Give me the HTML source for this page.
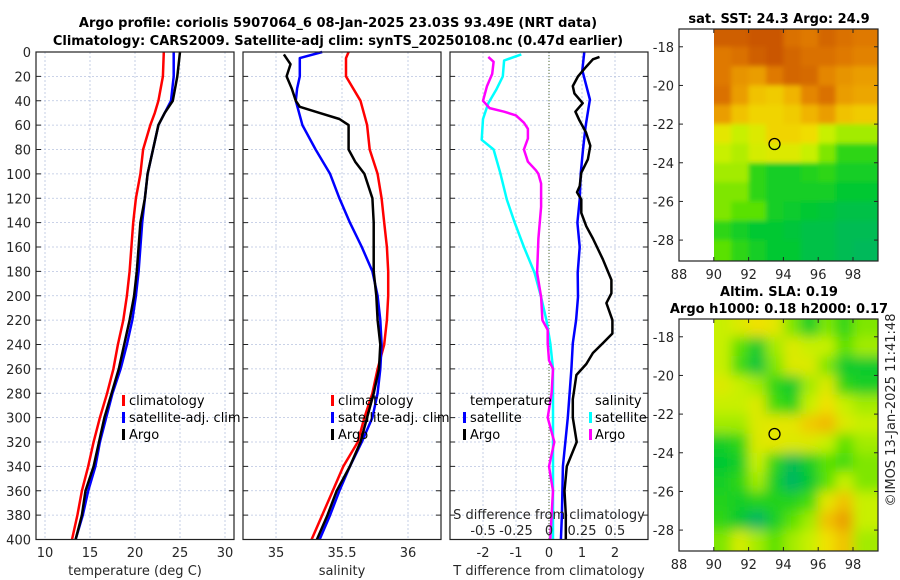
<!DOCTYPE html>
<html><head><meta charset="utf-8">
<style>
html,body{margin:0;padding:0;background:#fff;}
svg{display:block;font-family:"DejaVu Sans","Liberation Sans",sans-serif;}
.tk{font-size:13px;fill:#262626;}
.ti{font-size:13px;font-weight:bold;fill:#000;}
.lg{font-size:13px;fill:#000;}
</style></head>
<body>
<svg id="fig" width="900" height="580" viewBox="0 0 900 580" xmlns="http://www.w3.org/2000/svg">
<defs>
<filter id="blur1" x="0" y="0" width="1" height="1"><feGaussianBlur stdDeviation="2.5" edgeMode="duplicate"/></filter>
<filter id="blur2" x="0" y="0" width="1" height="1"><feGaussianBlur stdDeviation="6" edgeMode="duplicate"/></filter>
<clipPath id="cp1"><rect x="714" y="29" width="164" height="232"/></clipPath>
<clipPath id="cp2"><rect x="714" y="319" width="164" height="232"/></clipPath>
</defs>
<text class="ti" x="338" y="27" text-anchor="middle">Argo profile: coriolis 5907064_6 08-Jan-2025 23.03S 93.49E (NRT data)</text>
<text class="ti" x="338" y="45" text-anchor="middle">Climatology: CARS2009. Satellite-adj clim: synTS_20250108.nc (0.47d earlier)</text>
<g id="plots"></g>
</svg>
<script>
// ---------- data ----------
const depthTicks = [0,20,40,60,80,100,120,140,160,180,200,220,240,260,280,300,320,340,360,380,400];
const tempTicks = [10,15,20,25,30];
const salTicks = [35,35.5,36];
const salTickLabels = ["35","35.5","36"];
const tdTicks = [-2,-1,0,1,2];
const sdTicks = [-0.5,-0.25,0,0.25,0.5];
const sdTickLabels = ["-0.5","-0.25","0","0.25","0.5"];

const tDepth = [0,20,40,50,60,80,100,120,140,160,180,200,220,240,260,280,300,320,340,360,380,400];
const tArgo = [25.0,24.7,24.2,23.3,22.6,22.0,21.4,21.1,20.6,20.4,20.2,19.9,19.4,18.8,18.2,17.4,16.6,16.0,15.4,14.5,14.1,13.4];
const tSat  = [24.3,24.3,24.0,23.3,22.6,22.0,21.4,21.1,20.8,20.6,20.4,20.1,19.7,19.1,18.4,17.5,16.8,16.1,15.6,14.8,14.2,13.4];
const tClim = [23.2,23.1,22.6,22.2,21.7,20.9,20.6,20.1,19.8,19.6,19.4,19.1,18.7,18.1,17.6,16.9,16.1,15.4,14.8,14.1,13.6,13.0];

const sClimDepth = [0,5,20,40,60,80,100,120,140,160,180,200,220,240,260,280,300,320,340,360,380,400];
const sClim = [35.55,35.53,35.53,35.64,35.69,35.71,35.77,35.80,35.82,35.84,35.85,35.85,35.84,35.82,35.77,35.73,35.67,35.62,35.51,35.43,35.35,35.27];
const sArgoDepth = [2,10,20,30,40,45,50,55,60,70,80,90,100,120,140,160,180,200,220,240,260,280,300,320,340,360,380,400];
const sArgo = [35.06,35.11,35.08,35.12,35.15,35.18,35.33,35.48,35.55,35.55,35.55,35.60,35.67,35.73,35.74,35.74,35.74,35.76,35.77,35.79,35.78,35.74,35.69,35.64,35.56,35.46,35.39,35.31];
const sSatDepth = [0,5,20,30,40,60,80,100,120,140,160,180,200,220,240,260,280,300,320,340,360,380,400];
const sSat = [35.35,35.18,35.18,35.16,35.15,35.20,35.30,35.41,35.48,35.56,35.65,35.73,35.77,35.79,35.80,35.79,35.77,35.73,35.65,35.56,35.48,35.41,35.33];

const dTSatDepth = [0,15,39,61,80,100,121,140,160,181,201,220,239,260,300,340,380,400];
const dTSat = [1.07,1.01,1.24,1.11,1.03,0.96,0.93,0.86,0.93,0.87,0.88,0.82,0.72,0.68,0.57,0.42,0.39,0.36];
const dTArgoDepth = [4,6,12,20,28,34,42,49,56,66,77,88,99,110,115,121,132,143,153,170,187,198,206,220,231,239,247,256,265,285,300,320,340,360,380,400];
const dTArgo = [1.53,1.33,1.13,0.88,0.72,0.77,1.02,0.80,0.92,1.12,1.25,1.18,0.98,0.93,0.85,0.98,0.98,1.13,1.33,1.63,1.89,1.89,1.74,1.92,1.92,1.63,1.33,1.13,0.83,0.72,0.72,0.84,0.54,0.47,0.51,0.51];
const dSSatDepth = [2,7,20,31,42,55,72,80,99,121,140,160,181,201,220,239,260,300,350,400];
const dSSat = [-0.21,-0.34,-0.35,-0.40,-0.46,-0.50,-0.51,-0.42,-0.37,-0.32,-0.26,-0.19,-0.11,-0.06,-0.02,0.01,0.03,0.03,0.03,0.03];
const dSArgoDepth = [4,8,18,28,40,46,49,52,58,63,71,80,90,97,100,108,127,153,181,201,220,228,239,253,260,280,300,320,340,360,380,400];
const dSArgo = [-0.46,-0.42,-0.43,-0.47,-0.50,-0.45,-0.34,-0.25,-0.19,-0.16,-0.16,-0.19,-0.16,-0.10,-0.08,-0.06,-0.06,-0.08,-0.09,-0.06,-0.05,-0.01,-0.01,0.00,0.03,0.02,-0.01,0.04,0.00,0.03,0.02,0.01];

const sstGrid = [
[0.95,0.95,0.97,0.97,0.90,0.88,0.93,0.90,0.88],
[0.88,0.90,0.95,0.97,0.93,0.90,0.90,0.88,0.86],
[0.88,0.82,0.80,0.88,0.93,0.92,0.85,0.82,0.80],
[0.90,0.80,0.72,0.70,0.75,0.85,0.90,0.80,0.78],
[0.80,0.72,0.68,0.68,0.70,0.75,0.80,0.72,0.70],
[0.62,0.55,0.60,0.68,0.68,0.66,0.55,0.50,0.50],
[0.55,0.52,0.58,0.60,0.60,0.55,0.45,0.30,0.30],
[0.50,0.50,0.30,0.25,0.25,0.28,0.30,0.25,0.25],
[0.45,0.45,0.30,0.25,0.25,0.25,0.25,0.20,0.20],
[0.45,0.40,0.40,0.25,0.22,0.20,0.18,0.15,0.15],
[0.30,0.25,0.20,0.20,0.18,0.15,0.15,0.12,0.12],
[0.40,0.30,0.25,0.20,0.20,0.15,0.15,0.12,0.10]];
const slaGrid = [
[0.55,0.60,0.65,0.62,0.45,0.25,0.45,0.30,0.45],
[0.55,0.40,0.22,0.50,0.60,0.55,0.55,0.40,0.50],
[0.55,0.35,0.18,0.45,0.60,0.60,0.45,0.22,0.22],
[0.60,0.55,0.50,0.30,0.22,0.50,0.60,0.30,0.25],
[0.55,0.55,0.60,0.35,0.28,0.55,0.65,0.55,0.50],
[0.50,0.50,0.60,0.62,0.62,0.70,0.74,0.60,0.55],
[0.25,0.30,0.60,0.62,0.60,0.60,0.55,0.40,0.50],
[0.20,0.25,0.55,0.30,0.12,0.25,0.40,0.35,0.45],
[0.25,0.30,0.50,0.25,0.08,0.20,0.40,0.55,0.45],
[0.28,0.25,0.28,0.28,0.28,0.35,0.62,0.72,0.55],
[0.30,0.20,0.08,0.25,0.40,0.50,0.72,0.80,0.55],
[0.45,0.58,0.50,0.40,0.50,0.55,0.65,0.72,0.50]];
const mapLonTicks = [88,90,92,94,96,98];
const mapLatTicks = [-18,-20,-22,-24,-26,-28];
const argoLon = 93.49, argoLat = -23.03;

// ---------- helpers ----------
const NS = "http://www.w3.org/2000/svg";
const root = document.getElementById('plots');
function mk(tag, attrs, parent){
  const e = document.createElementNS(NS, tag);
  for (const k in attrs) e.setAttribute(k, attrs[k]);
  (parent||root).appendChild(e);
  return e;
}
const Y0 = 52, Y1 = 539.5;
const yD = d => Y0 + (Y1 - Y0) * d / 400;

function panel(name, x0, x1, xmin, xmax){
  const g = mk('g', {});
  
  
  return {g, x0, x1, sx: v => x0 + (x1 - x0) * (v - xmin) / (xmax - xmin)};
}
function frame(p, xt, xtl, yLabels){
  depthTicks.forEach(d => {
    const y = yD(d);
    const gl = mk('line', {x1:p.x0, x2:p.x1, y1:y, y2:y, stroke:'#b8c4e0', 'stroke-width':0.8, 'stroke-dasharray':'2,2'}, p.g);
    
    
    mk('line', {x1:p.x0, x2:p.x0+5, y1:y, y2:y, stroke:'#222', 'stroke-width':1}, p.g);
    mk('line', {x1:p.x1-5, x2:p.x1, y1:y, y2:y, stroke:'#222', 'stroke-width':1}, p.g);
    if (yLabels){
      const t = mk('text', {class:'tk', x:p.x0-5, y:y+5, 'text-anchor':'end'}, p.g);
      t.textContent = d;
      
      
    }
  });
  xt.forEach((v,i) => {
    const x = p.sx(v);
    const gl = mk('line', {x1:x, x2:x, y1:Y0, y2:Y1, stroke:'#b8c4e0', 'stroke-width':0.8, 'stroke-dasharray':'2,2'}, p.g);
    
    
    const t = mk('text', {class:'tk', x:x, y:557, 'text-anchor':'middle'}, p.g);
    t.textContent = xtl ? xtl[i] : v;
    
    
  });
}
function border(p){
  const r = mk('rect', {x:p.x0, y:Y0, width:p.x1-p.x0, height:Y1-Y0, fill:'none', stroke:'#222', 'stroke-width':1.2}, p.g);
  
  
}
function line(p, depths, vals, color, name, sx){
  const f = sx || p.sx;
  const pts = vals.map((v,i) => f(v).toFixed(1) + ',' + yD(depths[i]).toFixed(1)).join(' ');
  const pl = mk('polyline', {points:pts, fill:'none', stroke:color, 'stroke-width':2.5, 'stroke-linejoin':'round'}, p.g);
  
  
}
function text(parent, x, y, s, cls, name, anchor){
  const t = mk('text', {class:cls, x:x, y:y, 'text-anchor':anchor||'start'}, parent);
  t.textContent = s;
  
  
  return t;
}
function legendBar(parent, x, y, color){
  const r = mk('rect', {x:x, y:y-10, width:3, height:11, fill:color}, parent);
  
  
}

// ---------- panel 1: temperature ----------
const p1 = panel('temperature-panel', 36, 234, 9, 31);
frame(p1, tempTicks, null, true);
line(p1, tDepth, tClim, '#ff0000', 'temperature-climatology-line');
line(p1, tDepth, tSat, '#0000ff', 'temperature-satellite-line');
line(p1, tDepth, tArgo, '#000000', 'temperature-argo-line');
border(p1);
text(p1.g, 135, 575, 'temperature (deg C)', 'tk', 'x-axis-title', 'middle');
[['climatology','#ff0000',405],['satellite-adj. clim','#0000ff',422],['Argo','#000',439]].forEach(([s,c,y]) => {
  legendBar(p1.g, 122, y, c); text(p1.g, 129, y, s, 'lg', 'legend-entry');
});

// ---------- panel 2: salinity ----------
const p2 = panel('salinity-panel', 243, 441, 34.75, 36.25);
frame(p2, salTicks, salTickLabels, false);
line(p2, sClimDepth, sClim, '#ff0000', 'salinity-climatology-line');
line(p2, sSatDepth, sSat, '#0000ff', 'salinity-satellite-line');
line(p2, sArgoDepth, sArgo, '#000000', 'salinity-argo-line');
border(p2);
text(p2.g, 342, 575, 'salinity', 'tk', 'x-axis-title', 'middle');
[['climatology','#ff0000',405],['satellite-adj. clim','#0000ff',422],['Argo','#000',439]].forEach(([s,c,y]) => {
  legendBar(p2.g, 331, y, c); text(p2.g, 338, y, s, 'lg', 'legend-entry');
});

// ---------- panel 3: differences ----------
const p3 = panel('difference-panel', 450, 648, -3.0, 3.0);
const sxS = v => p3.sx(v * 4);
frame(p3, tdTicks, null, false);
const zl = mk('line', {x1:p3.sx(0), x2:p3.sx(0), y1:Y0, y2:Y1, stroke:'#556b2f', 'stroke-width':1, 'stroke-dasharray':'1,2'}, p3.g);


line(p3, dSSatDepth, dSSat, '#00ffff', 'salinity-diff-satellite-line', sxS);
line(p3, dSArgoDepth, dSArgo, '#ff00ff', 'salinity-diff-argo-line', sxS);
line(p3, dTSatDepth, dTSat, '#0000ff', 'temperature-diff-satellite-line');
line(p3, dTArgoDepth, dTArgo, '#000000', 'temperature-diff-argo-line');
border(p3);
text(p3.g, 549, 575, 'T difference from climatology', 'tk', 'x-axis-title', 'middle');
text(p3.g, 549, 519, 'S difference from climatology', 'tk', 'secondary-x-axis-title', 'middle');
sdTicks.forEach((v,i) => text(p3.g, sxS(v), 535, sdTickLabels[i], 'tk', 'secondary-x-tick-label', 'middle'));
text(p3.g, 470, 405, 'temperature', 'lg', 'legend-title-temperature');
legendBar(p3.g, 463, 422, '#0000ff'); text(p3.g, 470, 422, 'satellite', 'lg', 'legend-entry');
legendBar(p3.g, 463, 439, '#000'); text(p3.g, 470, 439, 'Argo', 'lg', 'legend-entry');
text(p3.g, 595, 405, 'salinity', 'lg', 'legend-title-salinity');
legendBar(p3.g, 589, 422, '#00ffff'); text(p3.g, 595, 422, 'satellite', 'lg', 'legend-entry');
legendBar(p3.g, 589, 439, '#ff00ff'); text(p3.g, 595, 439, 'Argo', 'lg', 'legend-entry');

// ---------- maps ----------
const cmapStops = [[0,[0,170,130]],[0.2,[0,200,50]],[0.4,[90,225,0]],[0.55,[200,240,0]],[0.65,[240,225,0]],[0.75,[240,180,0]],[0.87,[225,125,0]],[1,[195,75,0]]];
function cmap(v){
  for (let i=1;i<cmapStops.length;i++){
    if (v <= cmapStops[i][0]){
      const [a,ca] = cmapStops[i-1], [b,cb] = cmapStops[i];
      const t = (v-a)/(b-a);
      return 'rgb(' + ca.map((c,j)=>Math.round(c+(cb[j]-c)*t)).join(',') + ')';
    }
  }
  return 'rgb(195,75,0)';
}
function drawMap(name, top, grid, clip, filt, titles){
  const g = mk('g', {});
  
  
  const L = 679, R = 878, B = top + 232;
  const sx = lon => L + (lon - 88) * 17.4;
  const sy = lat => top + (-17.08 - lat) * 19.33;
  const cells = mk('g', {'clip-path':'url(#' + clip + ')'}, g);
  const inner = mk('g', {filter:'url(#' + filt + ')'}, cells);
  mk('rect', {x:sx(90)-20, y:top-20, width:R-sx(90)+40, height:272, fill:cmap(grid[0][0])}, inner);
  grid.forEach((row, r) => row.forEach((v, c) => {
    const x0 = sx(90 + c) - (c === 0 ? 20 : 0);
    const x1 = c === row.length - 1 ? R + 20 : sx(91 + c);
    const y0 = r === 0 ? top - 20 : sy(-17 - r);
    const y1 = r === grid.length - 1 ? B + 20 : sy(-18 - r);
    const rc = mk('rect', {x:x0, y:y0, width:x1-x0+0.5, height:y1-y0+0.5, fill:cmap(v)}, inner);
    
    
  }));
  mk('rect', {x:L+0.6, y:top+0.6, width:sx(90)-L-0.6, height:230.8, fill:'#fff'}, g);
  const bx = mk('rect', {x:L, y:top, width:R-L, height:232, fill:'none', stroke:'#222', 'stroke-width':1.2}, g);
  
  
  mapLonTicks.forEach(v => {
    const x = sx(v);
    mk('line', {x1:x, x2:x, y1:B, y2:B-4, stroke:'#222'}, g);
    mk('line', {x1:x, x2:x, y1:top, y2:top+4, stroke:'#222'}, g);
    text(g, x, B + 18, String(v), 'tk', 'map-lon-tick-label', 'middle');
  });
  mapLatTicks.forEach(v => {
    const y = sy(v);
    mk('line', {x1:L, x2:L+4, y1:y, y2:y, stroke:'#222'}, g);
    mk('line', {x1:R-4, x2:R, y1:y, y2:y, stroke:'#222'}, g);
    text(g, L - 5, y + 5, String(v), 'tk', 'map-lat-tick-label', 'end');
  });
  const ci = mk('circle', {cx:sx(argoLon), cy:sy(argoLat), r:5.5, fill:'none', stroke:'#000', 'stroke-width':1.3}, g);
  
  
  titles.forEach(([s, y]) => text(g, 779, y, s, 'ti', 'map-title', 'middle'));
}
drawMap('sst-map', 29, sstGrid, 'cp1', 'blur1', [['sat. SST: 24.3 Argo: 24.9', 23]]);
drawMap('sla-map', 319, slaGrid, 'cp2', 'blur2', [['Altim. SLA: 0.19', 296], ['Argo h1000: 0.18 h2000: 0.17', 313]]);

const cr = mk('text', {class:'tk', transform:'translate(895,410) rotate(-90)', 'text-anchor':'middle'});
cr.textContent = '©IMOS 13-Jan-2025 11:41:48';


</script>
</body></html>
